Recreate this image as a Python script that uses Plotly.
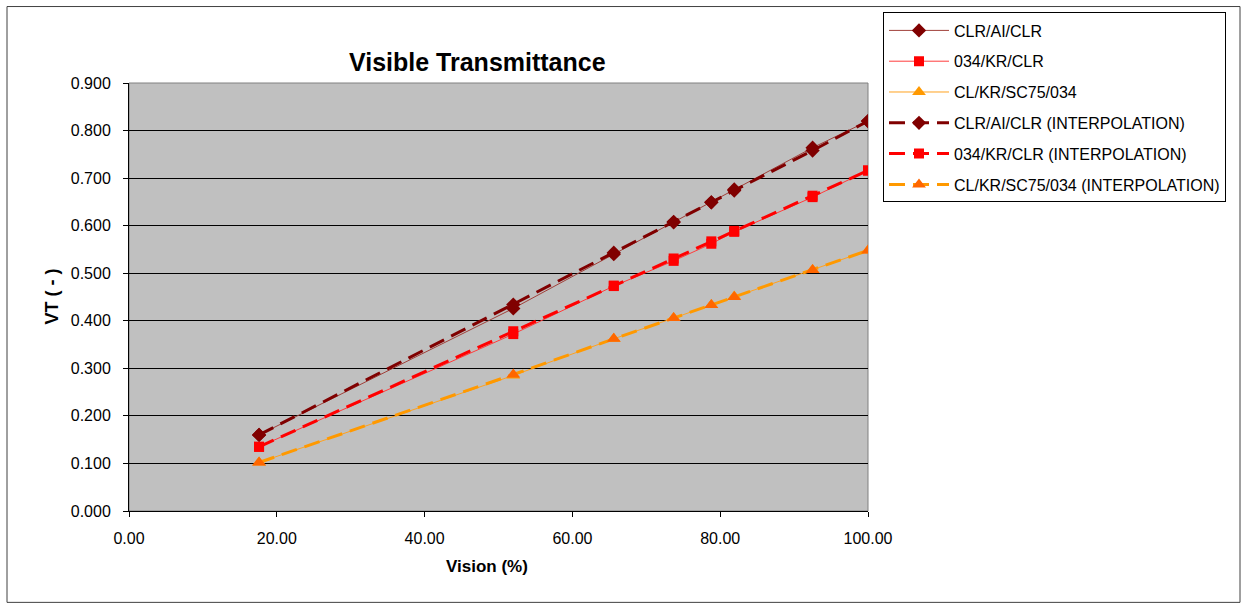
import plotly.graph_objects as go

# values
vision = [17.6, 52.0, 65.6, 73.7, 78.8, 81.9, 92.5, 100.0]

vt_clr_al = [0.160, 0.426, 0.540, 0.607, 0.649, 0.676, 0.764, 0.820]
vt_034_kr = [0.135, 0.372, 0.473, 0.526, 0.562, 0.587, 0.660, 0.716]
vt_cl_sc75 = [0.102, 0.285, 0.362, 0.406, 0.433, 0.451, 0.507, 0.548]

vt_clr_al_interp = [0.160, 0.434, 0.543, 0.608, 0.649, 0.674, 0.758, 0.820]
vt_034_kr_interp = [0.135, 0.378, 0.474, 0.531, 0.567, 0.589, 0.663, 0.716]
vt_cl_sc75_interp = [0.102, 0.287, 0.362, 0.406, 0.433, 0.450, 0.507, 0.548]

names = ["CLR/AI/CLR", "034/KR/CLR", "CL/KR/SC75/034",
         "CLR/AI/CLR (INTERPOLATION)", "034/KR/CLR (INTERPOLATION)",
         "CL/KR/SC75/034 (INTERPOLATION)"]

y_ticks = [0.0, 0.1, 0.2, 0.3, 0.4, 0.5, 0.6, 0.7, 0.8, 0.9]
x_ticks = [0, 20, 40, 60, 80, 100]

# plot area in pixels (for placing things outside it)
L, R, T, B = 129, 868, 80, 511
def px(x): return (x - L) / (R - L)
def py(y): return (B - y) / (B - T)

fig = go.Figure()

solid = [
    (vt_clr_al, "#A0403A", "#800000", "diamond", 11),
    (vt_034_kr, "#FF3C3C", "#FF0000", "square", 10),
    (vt_cl_sc75, "#FFA220", "#FF9900", "triangle-up", 12),
]
for i, (vals, lc, mc, sym, ms) in enumerate(solid):
    fig.add_trace(go.Scatter(
        x=vision, y=vals, name=names[i], mode="lines+markers",
        line=dict(color=lc, width=1),
        marker=dict(color=mc, symbol=sym, size=ms, line=dict(width=0)),
        legendgroup="g%d" % i))

dashed = [
    (vt_clr_al_interp, "#800000", "#800000", "diamond", 11),
    (vt_034_kr_interp, "#FF0000", "#FF0000", "square", 10),
    (vt_cl_sc75_interp, "#FF9900", "#FF6600", "triangle-up", 12),
]
for i, (vals, lc, mc, sym, ms) in enumerate(dashed):
    fig.add_trace(go.Scatter(
        x=vision, y=vals, name=names[i + 3], mode="lines+markers",
        line=dict(color=lc, width=3, dash="16px,8px"),
        marker=dict(color=mc, symbol=sym, size=ms, line=dict(width=0)),
        legendgroup="g%d" % (i + 3)))

fig.update_layout(
    width=1245, height=606,
    margin=dict(l=L, r=1245 - R, t=T, b=606 - B),
    paper_bgcolor="white", plot_bgcolor="#C0C0C0",
    font=dict(family="Liberation Sans, Arial, sans-serif", size=16, color="black"),
    showlegend=True,
    legend=dict(x=px(883), y=py(9), xanchor="left", yanchor="top",
                bgcolor="white", bordercolor="black", borderwidth=1,
                font=dict(size=16), tracegroupgap=7, itemwidth=60),
)

fig.update_xaxes(range=[0, 100], tickvals=x_ticks,
                 ticktext=["%.2f" % v for v in x_ticks],
                 showgrid=False, zeroline=False, showline=True,
                 linecolor="black", linewidth=1, ticks="outside",
                 ticklen=5, tickcolor="black", ticklabelstandoff=8)
fig.update_yaxes(range=[0, 0.9], tickvals=y_ticks,
                 ticktext=["%.3f" % v for v in y_ticks],
                 showgrid=True, gridcolor="black", gridwidth=1,
                 zeroline=False, showline=True, linecolor="black",
                 linewidth=1, ticks="outside", ticklen=5, tickcolor="black",
                 ticklabelstandoff=9)

# plot area frame (top/right grey) and outer chart frame
fig.add_shape(type="rect", xref="paper", yref="paper", x0=0, x1=1, y0=0, y1=1,
              line=dict(color="#808080", width=1), layer="below")
fig.add_shape(type="rect", xref="paper", yref="paper",
              x0=px(7), x1=px(1240), y0=py(603), y1=py(3),
              line=dict(color="#404040", width=1))

fig.add_annotation(text="<b>Visible Transmittance</b>", xref="paper", yref="paper",
                   x=px(477), y=py(43), showarrow=False, font=dict(size=25))
fig.add_annotation(text="<b>Vision (%)</b>", xref="paper", yref="paper",
                   x=px(487), y=py(578), showarrow=False, font=dict(size=17))
fig.add_annotation(text="<b>VT ( - )</b>", xref="paper", yref="paper",
                   x=px(40), y=py(295), showarrow=False, textangle=-90,
                   font=dict(size=18))

# the page has an 8px body margin by default; drop it so pixels line up
fig.write_html("out.html", config={"displayModeBar": False},
               post_script="document.body.style.margin='0';")
